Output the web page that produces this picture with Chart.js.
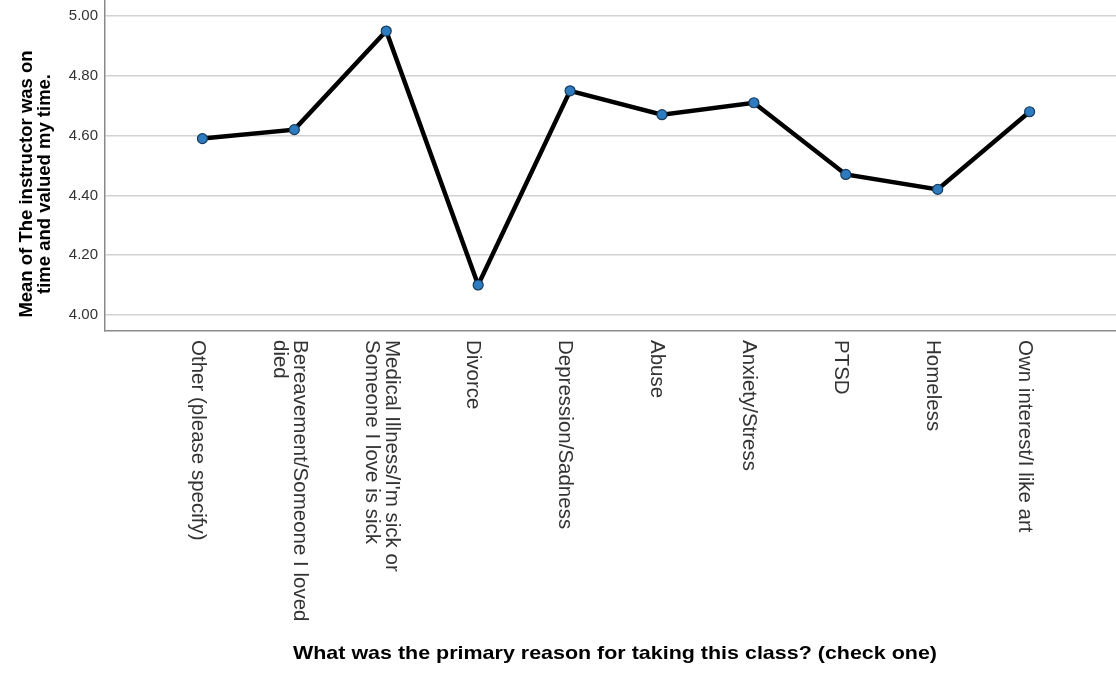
<!DOCTYPE html>
<html>
<head>
<meta charset="utf-8">
<script src="https://cdn.jsdelivr.net/npm/chart.js@4"></script>
<style>
  html, body { margin: 0; padding: 0; background: #fff; }
  #wrap { width: 1116px; height: 674px; position: relative; }
</style>
</head>
<body>
<div id="wrap"><canvas id="meanChart"></canvas></div>
<script>
const categories = [
  "Other (please specify)",
  ["Bereavement/Someone I loved", "died"],
  ["Medical Illness/I'm sick or", "Someone I love is sick"],
  "Divorce",
  "Depression/Sadness",
  "Abuse",
  "Anxiety/Stress",
  "PTSD",
  "Homeless",
  "Own interest/I like art"
];
const means = [4.59, 4.62, 4.95, 4.10, 4.75, 4.67, 4.71, 4.47, 4.42, 4.68];
const yTicks = [4.0, 4.2, 4.4, 4.6, 4.8, 5.0];
const yTitle = ["Mean of The instructor was on", "time and valued my time."];
const xTitle = "What was the primary reason for taking this class? (check one)";

const fontFamily = "'Liberation Sans', Arial, sans-serif";

// category labels are drawn by hand, rotated clockwise like the SPSS output
const textPlugin = {
  id: "spssText",
  afterDraw(chart) {
    const ctx = chart.ctx;
    const xScale = chart.scales.x;
    const area = chart.chartArea;

    ctx.save();
    ctx.fillStyle = "#333";
    ctx.font = "20.5px " + fontFamily;
    ctx.textAlign = "left";
    ctx.textBaseline = "middle";
    categories.forEach((label, i) => {
      const lines = Array.isArray(label) ? label : [label];
      ctx.save();
      ctx.translate(xScale.getPixelForValue(i) - 5, area.bottom + 9);
      ctx.rotate(Math.PI / 2);
      lines.forEach((line, k) => {
        ctx.fillText(line, 0, (k - (lines.length - 1) / 2) * 20);
      });
      ctx.restore();
    });

    // y title
    ctx.fillStyle = "#000";
    ctx.font = "bold 18.5px " + fontFamily;
    ctx.textAlign = "center";
    ctx.textBaseline = "alphabetic";
    ctx.save();
    ctx.translate(32, 184);
    ctx.rotate(-Math.PI / 2);
    yTitle.forEach((line, k) => ctx.fillText(line, 0, k * 18));
    ctx.restore();

    // x title
    ctx.save();
    const w = ctx.measureText(xTitle).width;
    ctx.translate(615, 659);
    ctx.scale(644 / w, 1);
    ctx.fillText(xTitle, 0, 0);
    ctx.restore();

    ctx.restore();
  }
};

new Chart(document.getElementById("meanChart"), {
  type: "line",
  data: {
    datasets: [
      {
        data: means.map((v, i) => ({ x: i, y: v })),
        borderColor: "#000",
        borderWidth: 4.5,
        pointRadius: 5,
        pointHoverRadius: 5,
        pointBackgroundColor: "#2f7bbf",
        pointBorderColor: "#173b5c",
        pointBorderWidth: 1.2,
        tension: 0
      }
    ]
  },
  options: {
    responsive: true,
    maintainAspectRatio: false,
    animation: false,
    layout: { padding: 0, autoPadding: false },
    plugins: {
      legend: { display: false },
      tooltip: { enabled: false }
    },
    scales: {
      x: {
        type: "linear",
        min: -1.06,
        max: 9.94,
        afterBuildTicks: (axis) => {
          axis.ticks = categories.map((_, i) => ({ value: i }));
        },
        afterFit: (axis) => {
          axis.height = 343;
          axis.paddingLeft = 0;
          axis.paddingRight = 0;
        },
        ticks: { display: false },
        grid: { display: false, drawTicks: false },
        border: { display: true, color: "#8a8a8a", width: 1.5 }
      },
      y: {
        min: 3.946,
        max: 5.054,
        afterBuildTicks: (axis) => {
          axis.ticks = yTicks.map((v) => ({ value: v }));
        },
        afterFit: (axis) => {
          axis.width = 105;
          axis.paddingTop = 0;
          axis.paddingBottom = 0;
        },
        ticks: {
          padding: 7,
          color: "#333",
          font: { family: fontFamily, size: 15 },
          callback: (value) => Number(value).toFixed(2)
        },
        grid: { color: "#d2d2d2", lineWidth: 1.5, drawTicks: false },
        border: { display: true, color: "#8a8a8a", width: 1.5 }
      }
    }
  },
  plugins: [textPlugin]
});
</script>
</body>
</html>
